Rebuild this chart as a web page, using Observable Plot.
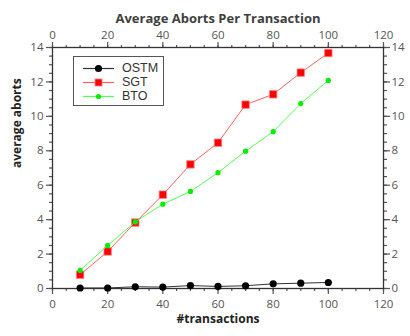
<!DOCTYPE html>
<html>
<head>
<meta charset="utf-8">
<script src="https://cdn.jsdelivr.net/npm/d3@7"></script>
<script src="https://cdn.jsdelivr.net/npm/@observablehq/plot@0.6"></script>
<style>
  body { margin: 0; background: #fff; }
  #wrap { position: relative; width: 410px; height: 336px; font-family: "Open Sans", sans-serif; }
  #legend { position: absolute; left: 73px; top: 56px; width: 89px; height: 48px; border: 1.5px solid #555; background: #fff; box-sizing: content-box; }
  .row { position: absolute; left: 0; height: 13px; line-height: 13px; display: flex; align-items: center; }
  .row svg { margin-left: 9px; display: block; }
  .row div { margin-left: 8px; font-family: "Liberation Sans", Arial, sans-serif; font-size: 12.5px; line-height: 13px; height: 13px; color: #333; display: block; }
</style>
</head>
<body>
<div id="wrap"></div>
<script>
const transactions = [10, 20, 30, 40, 50, 60, 70, 80, 90, 100];
const ostm = [0.03, 0.03, 0.10, 0.08, 0.17, 0.12, 0.16, 0.27, 0.31, 0.35];
const sgt  = [0.80, 2.15, 3.83, 5.45, 7.21, 8.47, 10.68, 11.28, 12.54, 13.68];
const bto  = [1.05, 2.50, 3.87, 4.90, 5.64, 6.73, 7.98, 9.11, 10.74, 12.09];
const seriesNames = ["OSTM", "SGT", "BTO"];
const xMajor = [0, 20, 40, 60, 80, 100, 120];
const yMajor = [0, 2, 4, 6, 8, 10, 12, 14];
const xMinor = d3.range(0, 121, 5);
const yMinor = d3.range(0, 14.01, 0.5);
const title = "Average Aborts Per Transaction";
const xLabel = "#transactions";
const yLabel = "average aborts";

const rows = (vals) => transactions.map((t, i) => ({x: t, y: vals[i]}));
const dOstm = rows(ostm), dSgt = rows(sgt), dBto = rows(bto);

const blank = () => "";
const tickStyle = {stroke: "#555", strokeWidth: 1.2};
const chart = Plot.plot({
  width: 410, height: 336,
  marginLeft: 52, marginRight: 27, marginTop: 47, marginBottom: 48,
  x: {domain: [0, 120]},
  y: {domain: [0, 14]},
  style: {fontFamily: "'Open Sans', sans-serif", fontSize: "11.5px", color: "#555", background: "white"},
  marks: [
    Plot.axisX({anchor: "bottom", ticks: xMinor, tickSize: 3, tickFormat: blank, label: null, ...tickStyle}),
    Plot.axisX({anchor: "top", ticks: xMinor, tickSize: 3, tickFormat: blank, label: null, ...tickStyle}),
    Plot.axisY({anchor: "left", ticks: yMinor, tickSize: 3, tickFormat: blank, label: null, ...tickStyle}),
    Plot.axisY({anchor: "right", ticks: yMinor, tickSize: 3, tickFormat: blank, label: null, ...tickStyle}),
    Plot.axisX({anchor: "bottom", ticks: xMajor, tickSize: 6, tickPadding: 5, label: null, ...tickStyle}),
    Plot.axisX({anchor: "top", ticks: xMajor, tickSize: 6, tickPadding: 3, label: null, ...tickStyle}),
    Plot.axisY({anchor: "left", ticks: yMajor, tickSize: 6, tickPadding: 3, label: null, ...tickStyle}),
    Plot.axisY({anchor: "right", ticks: yMajor, tickSize: 6, tickPadding: 2, label: null, ...tickStyle}),
    Plot.frame({stroke: "#333", strokeWidth: 1.3}),
    Plot.line(dOstm, {x: "x", y: "y", stroke: "#333", strokeWidth: 1}),
    Plot.dot(dOstm, {x: "x", y: "y", r: 3.6, fill: "#000", stroke: "none"}),
    Plot.line(dSgt, {x: "x", y: "y", stroke: "#ff6060", strokeWidth: 1}),
    Plot.dot(dSgt, {x: "x", y: "y", symbol: "square", r: 4.2, fill: "#ff0000", stroke: "#ff8080", strokeWidth: 0.8}),
    Plot.line(dBto, {x: "x", y: "y", stroke: "#55ff55", strokeWidth: 1}),
    Plot.dot(dBto, {x: "x", y: "y", r: 2.6, fill: "#00ee00", stroke: "none"}),
    Plot.text([title], {frameAnchor: "top", dy: -34, fontWeight: "bold", fontSize: 13, fill: "#404040"}),
    Plot.text([xLabel], {frameAnchor: "bottom", dy: 34, fontWeight: "bold", fontSize: 12, fill: "#222"}),
    Plot.text([yLabel], {frameAnchor: "left", dx: -35, rotate: -90, fontWeight: "bold", fontSize: 12, fill: "#222"})
  ]
});
const wrap = document.getElementById("wrap");
wrap.appendChild(chart);

const legend = document.createElement("div");
legend.id = "legend";
const swatches = [
  {line: "#333", draw: '<circle cx="15.5" cy="6.5" r="3.6" fill="#000"/>'},
  {line: "#ff6060", draw: '<rect x="12" y="3" width="7" height="7" fill="#ff0000" stroke="#ff8080" stroke-width="0.8"/>'},
  {line: "#55ff55", draw: '<circle cx="15.5" cy="6.5" r="2.6" fill="#00ee00"/>'}
];
seriesNames.forEach((name, i) => {
  const row = document.createElement("div");
  row.className = "row";
  row.style.top = (4.5 + i * 14.2) + "px";
  row.innerHTML = `<svg width="31" height="13"><line x1="0" x2="31" y1="6.5" y2="6.5" stroke="${swatches[i].line}" stroke-width="1.2"/>${swatches[i].draw}</svg><div>${name}</div>`;
  legend.appendChild(row);
});
wrap.appendChild(legend);
</script>
</body>
</html>
